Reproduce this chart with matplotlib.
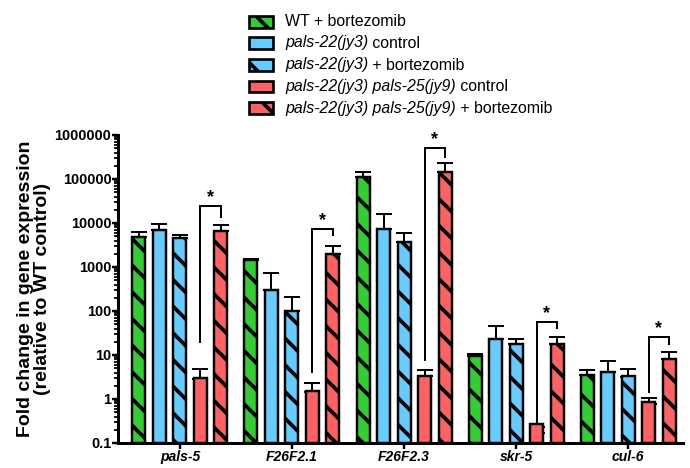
import numpy as np
import matplotlib.pyplot as plt
from matplotlib.patches import Rectangle
from matplotlib.ticker import LogLocator, NullFormatter

plt.rcParams['font.family'] = ['Liberation Sans', 'DejaVu Sans']
plt.rcParams['hatch.linewidth'] = 3.4
plt.rcParams['hatch.color'] = 'black'

# data (log scale)
genes = ['pals-5', 'F26F2.1', 'F26F2.3', 'skr-5', 'cul-6']
wt_bz = [4800, 1450, 112000, 9.5, 3.5]
wt_bz_err = [6300, 1550, 145000, 10.5, 4.6]
p22_ctrl = [6900, 300, 7300, 23, 4.1]
p22_ctrl_err = [9500, 730, 16000, 45, 7.3]
p22_bz = [4600, 100, 3700, 18, 3.2]
p22_bz_err = [5300, 210, 5900, 23, 4.8]
p2225_ctrl = [2.85, 1.45, 3.3, 0.17, 0.77]
p2225_ctrl_err = [4.8, 2.3, 4.6, 0.23, 1.05]
p2225_bz = [6600, 2000, 145000, 18, 8.1]
p2225_bz_err = [9000, 3000, 230000, 25, 11.6]

# significance brackets (ctrl vs bortezomib double mutant)
bracket_top = [24000, 7300, 500000, 56, 25]
bracket_left = [20, 4.1, 7.7, 0.3, 1.45]
bracket_right = [14000, 5300, 320000, 41, 18]

ytick_vals = [0.1, 1, 10, 100, 1000, 10000, 100000, 1000000]
ytick_labels = ['0.1', '1', '10', '100', '1000', '10000', '100000', '1000000']

green = '#33cc33'
blue = '#66ccff'
red = '#ff6262'

series = [
    (wt_bz, wt_bz_err, green, '\\'),
    (p22_ctrl, p22_ctrl_err, blue, ''),
    (p22_bz, p22_bz_err, blue, '\\'),
    (p2225_ctrl, p2225_ctrl_err, red, ''),
    (p2225_bz, p2225_bz_err, red, '\\'),
]

# legend labels split in italic / upright pieces
legend_rows = [
    [('WT + bortezomib', 'normal')],
    [('pals-22(jy3)', 'italic'), (' control', 'normal')],
    [('pals-22(jy3)', 'italic'), (' + bortezomib', 'normal')],
    [('pals-22(jy3) pals-25(jy9)', 'italic'), (' control', 'normal')],
    [('pals-22(jy3) pals-25(jy9)', 'italic'), (' + bortezomib', 'normal')],
]

W, H = 690, 468
fig = plt.figure(figsize=(W / 80, H / 80), dpi=80)
ax = fig.add_axes([118 / W, 25 / H, 565 / W, 308 / H])

x = np.arange(len(genes))
width = 0.116
step = 0.183

for i, (vals, err, col, hatch) in enumerate(series):
    pos = x + (i - 2) * step
    vals = np.array(vals)
    up = np.array(err) - vals
    ax.errorbar(pos, vals, yerr=[np.zeros_like(vals), up], fmt='none',
                ecolor='black', elinewidth=1.8, capsize=7, capthick=1.8, zorder=1)
    ax.bar(pos, vals, width, bottom=0.1, color=col, edgecolor='black',
           linewidth=2.2, hatch=hatch, zorder=2)

# brackets + stars
for g in range(len(genes)):
    xl = x[g] + 1 * step
    xr = x[g] + 2 * step
    ax.plot([xl, xl, xr, xr], [bracket_left[g], bracket_top[g], bracket_top[g], bracket_right[g]],
            color='black', lw=1.8, zorder=3, solid_joinstyle='miter')
    ax.annotate('*', xy=((xl + xr) / 2, bracket_top[g]), xytext=(0, 8),
                textcoords='offset points', ha='center', va='center',
                fontsize=16, fontweight='bold')

ax.set_yscale('log')
ax.set_ylim(0.1, 1e6)
ax.set_xlim(-0.553, 4.49)
ax.set_yticks(ytick_vals, ytick_labels)
ax.yaxis.set_minor_locator(LogLocator(base=10, subs=np.arange(2, 10), numticks=20))
ax.yaxis.set_minor_formatter(NullFormatter())
ax.set_xticks(x, genes)

for lab in ax.get_xticklabels():
    lab.set_fontstyle('italic')
    lab.set_fontweight('bold')
    lab.set_fontsize(12.5)
for lab in ax.get_yticklabels():
    lab.set_fontweight('bold')
    lab.set_fontsize(13)

ax.tick_params(axis='y', which='major', length=5.5, width=2.2, pad=0.5)
ax.tick_params(axis='y', which='minor', length=3.5, width=1.6)
ax.tick_params(axis='x', which='major', length=5.5, width=2.2, pad=1)

for s in ['top', 'right']:
    ax.spines[s].set_visible(False)
for s in ['left', 'bottom']:
    ax.spines[s].set_linewidth(2.7)

ax.set_ylabel('Fold change in gene expression\n(relative to WT control)',
              fontsize=17.5, fontweight='bold', labelpad=3, linespacing=1.05)

# legend built by hand for mixed italic text
row_y = [22, 43, 65, 86.5, 108]
for (vals, err, col, hatch), parts, ry in zip(series, legend_rows, row_y):
    fig.patches.append(Rectangle((249 / W, 1 - (ry + 5.5) / H), 24 / W, 11 / H,
                                 transform=fig.transFigure, facecolor=col,
                                 edgecolor='black', linewidth=2.4, hatch=hatch))
    t = fig.text(285 / W, 1 - ry / H, parts[0][0], fontstyle=parts[0][1],
                 fontsize=14.3, va='center', ha='left')
    for txt, style in parts[1:]:
        t = ax.annotate(txt, xy=(1, 0), xycoords=t, va='bottom', ha='left',
                        fontstyle=style, fontsize=14.3, annotation_clip=False)

fig.savefig('out.png', dpi=80)
